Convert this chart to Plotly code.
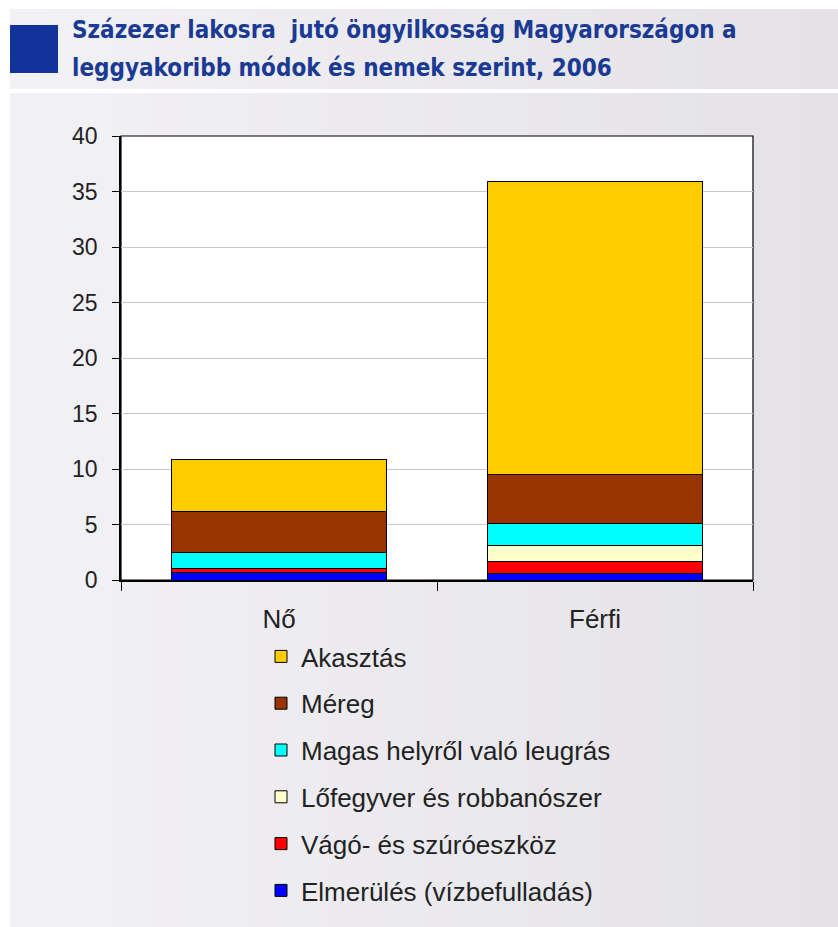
import plotly.graph_objects as go

# Suicides per 100,000 population in Hungary by method and sex, 2006
categories = ["Nő", "Férfi"]
methods = [
    "Elmerülés (vízbefulladás)",
    "Vágó- és szúróeszköz",
    "Lőfegyver és robbanószer",
    "Magas helyről való leugrás",
    "Méreg",
    "Akasztás",
]
drowning = [0.65, 0.6]
cutting = [0.35, 1.05]
firearm = [0.05, 1.5]
jumping = [1.4, 1.95]
poison = [3.7, 4.4]
hanging = [4.7, 26.4]
series = [drowning, cutting, firearm, jumping, poison, hanging]
colors = ["#0000FF", "#FF0000", "#FFFFCC", "#00FFFF", "#993300", "#FFCC00"]

y_ticks = [0, 5, 10, 15, 20, 25, 30, 35, 40]

title_lines = [
    "Százezer lakosra  jutó öngyilkosság Magyarországon a",
    "leggyakoribb módok és nemek szerint, 2006",
]

fig = go.Figure()
n = len(methods)
for i, (name, vals, col) in enumerate(zip(methods, series, colors)):
    fig.add_trace(go.Bar(
        x=categories, y=vals, name=name, legendgroup=name,
        legendrank=n - i,  # top segment listed first
        marker=dict(color=col, line=dict(color="#000000", width=1)),
        width=0.68,
    ))

W, H = 838, 927
L, R, T, B = 121, 753, 136, 580

shapes = []
# page background: light grey with a soft left-to-right gradient
def grad_band(y0, y1, c0, c1, n=24):
    out = []
    x0 = 10
    step = (W - x0) / n
    for i in range(n):
        f = i / (n - 1)
        c = tuple(round(a + (b - a) * f) for a, b in zip(c0, c1))
        out.append(dict(
            type="rect", xref="paper", yref="paper", layer="below",
            x0=(x0 + i * step - L) / (R - L), x1=(x0 + (i + 1) * step + 1 - L) / (R - L),
            y0=(B - y0) / (B - T), y1=(B - y1) / (B - T),
            fillcolor="rgb(%d,%d,%d)" % c, line=dict(width=0),
        ))
    return out

shapes += grad_band(9, 89, (242, 241, 245), (228, 226, 231))
shapes += grad_band(93, H, (242, 241, 245), (228, 226, 231))
# plot area panel
shapes.append(dict(type="rect", xref="paper", yref="paper", layer="below",
                   x0=0, x1=1, y0=0, y1=1, fillcolor="#FFFFFF",
                   line=dict(color="#000000", width=1.2)))
# blue title marker square
shapes.append(dict(type="rect", xref="paper", yref="paper",
                   x0=(10 - L) / (R - L), x1=(58 - L) / (R - L),
                   y0=(B - 73) / (B - T), y1=(B - 25) / (B - T),
                   fillcolor="#123399", line=dict(width=0)))

annotations = []
for i, line in enumerate(title_lines):
    annotations.append(dict(
        text=line, xref="paper", yref="paper",
        x=(70 - L) / (R - L), y=(B - (30 + 38 * i)) / (B - T),
        xanchor="left", yanchor="middle", showarrow=False,
        font=dict(family="DejaVu Sans Condensed", size=24, color="#1A3A94", weight="bold"),
    ))

fig.update_layout(
    width=W, height=H,
    margin=dict(l=L, r=W - R, t=T, b=H - B, autoexpand=False),
    paper_bgcolor="#FFFFFF", plot_bgcolor="rgba(0,0,0,0)",
    barmode="stack",
    font=dict(family="Liberation Sans", color="#222222"),
    shapes=shapes, annotations=annotations,
    showlegend=True,
    legend=dict(
        x=(261 - L) / (R - L), y=(B - 633) / (B - T), xanchor="left", yanchor="top",
        traceorder="grouped", tracegroupgap=10,
        font=dict(size=26, color="#222222"), bgcolor="rgba(0,0,0,0)",
        itemwidth=30,
    ),
    xaxis=dict(
        showline=True, linecolor="#000000", linewidth=1.5,
        ticks="outside", tickson="boundaries", ticklen=9, tickcolor="#000000",
        tickfont=dict(size=26, color="#222222"), showgrid=False,
        ticklabelstandoff=15,
    ),
    yaxis=dict(
        range=[0, 40], tickvals=y_ticks, showline=True, linecolor="#000000", linewidth=1.5,
        ticks="outside", ticklen=7, tickcolor="#000000",
        tickfont=dict(size=23, color="#222222"), ticklabelstandoff=10,
        showgrid=True, gridcolor="#C8C8C8", gridwidth=1, zeroline=False,
    ),
)

fig.write_html("out.html")
